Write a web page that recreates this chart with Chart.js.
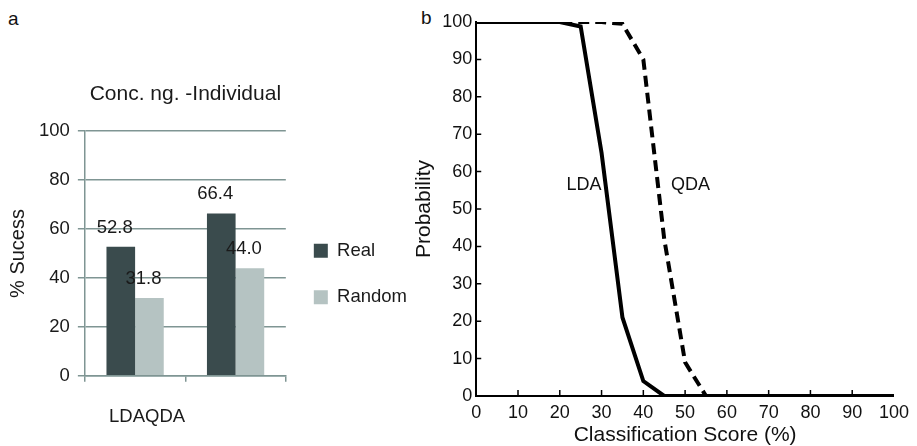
<!DOCTYPE html>
<html>
<head>
<meta charset="utf-8">
<script src="https://cdn.jsdelivr.net/npm/chart.js@4"></script>
<style>
  body { margin: 0; background: #fff; width: 917px; height: 446px; overflow: hidden; position: relative; font-family: 'Liberation Sans', Arial, sans-serif; }
  .panel { position: absolute; top: 0; }
  .tag { position: absolute; font-size: 19px; color: #111; }
</style>
</head>
<body>
<div class="tag" style="left:8px; top:8px;">a</div>
<div class="tag" style="left:421px; top:7px;">b</div>
<div class="panel" style="left:0; width:420px; height:452px;"><canvas id="chartA"></canvas></div>
<div class="panel" style="left:405px; width:512px; height:446px;"><canvas id="chartB"></canvas></div>
<script>
// panel a: success rates
const methods = ['LDA', 'QDA'];
const realRate = [52.8, 66.4];
const randomRate = [31.8, 44.0];
const rateTicks = [0, 20, 40, 60, 80, 100];

// panel b: probability vs classification score
const scores = [0, 5, 10, 15, 20, 25, 30, 35, 40, 45, 50, 55, 60, 65, 70, 75, 80, 85, 90, 95, 100];
const ldaProb = [100, 100, 100, 100, 100, 98.8, 65, 21, 4, 0, 0, 0, 0, 0, 0, 0, 0, 0, 0, 0, 0];
const qdaProb = [100, 100, 100, 100, 100, 100, 100, 99.5, 90, 42, 9, 0, 0, 0, 0, 0, 0, 0, 0, 0, 0];
const scoreTicks = [0, 10, 20, 30, 40, 50, 60, 70, 80, 90, 100];

const FONT = "'Liberation Sans', Arial, sans-serif";
const gridCol = '#7f9593';

Chart.defaults.font.family = FONT;
Chart.defaults.color = '#1a1a1a';

// values written above the bars
const barValues = {
    id: 'barValues',
    afterDatasetsDraw(chart) {
        const ctx = chart.ctx;
        ctx.save();
        ctx.font = '18.5px ' + FONT;
        ctx.fillStyle = '#1a1a1a';
        ctx.textAlign = 'center';
        ctx.textBaseline = 'middle';
        chart.data.datasets.forEach((ds, i) => {
            chart.getDatasetMeta(i).data.forEach((bar, j) => {
                ctx.fillText(ds.data[j].toFixed(1), bar.x - 6, bar.y - 19);
            });
        });
        ctx.restore();
    }
};

new Chart(document.getElementById('chartA'), {
    type: 'bar',
    data: {
        labels: methods,
        datasets: [
            { label: 'Real', data: realRate, backgroundColor: '#3a4b4d' },
            { label: 'Random', data: randomRate, backgroundColor: '#b5c3c2' }
        ]
    },
    options: {
        responsive: true,
        maintainAspectRatio: false,
        animation: false,
        layout: { padding: { top: 82, bottom: 0, left: 0, right: 3 } },
        datasets: { bar: { barPercentage: 1, categoryPercentage: 0.57 } },
        plugins: {
            tooltip: { enabled: false },
            title: {
                display: true,
                text: 'Conc. ng. -Individual',
                fullSize: false,
                font: { size: 21, weight: 'normal' },
                color: '#1a1a1a',
                padding: { top: 0, bottom: 24 }
            },
            legend: {
                position: 'right',
                maxWidth: 140,
                title: { display: true, text: ' ', padding: 0, font: { size: 10, lineHeight: 1.4 } },
                labels: {
                    boxWidth: 14,
                    boxHeight: 14,
                    padding: 28,
                    font: { size: 18.5 },
                    color: '#1a1a1a'
                }
            }
        },
        scales: {
            x: {
                grid: { drawOnChartArea: false, color: gridCol, lineWidth: 1.5, tickLength: 6 },
                border: { color: gridCol, width: 1.5 },
                ticks: {
                    padding: 24,
                    font: { size: 18.5 },
                    labelOffset: 12,
                    callback: (v, i) => i === 0 ? methods.join('') : ''
                }
            },
            y: {
                min: 0,
                max: 100,
                afterBuildTicks: s => { s.ticks = rateTicks.map(v => ({ value: v })); },
                grid: { color: gridCol, lineWidth: 1.5, tickLength: 7 },
                border: { color: gridCol, width: 1.5 },
                ticks: { padding: 8, font: { size: 18.5 } },
                title: {
                    display: true,
                    text: '% Sucess',
                    font: { size: 20 },
                    padding: { top: 6, bottom: 1 }
                }
            }
        }
    },
    plugins: [barValues]
});

// short inward tick marks like the original axes
const innerTicks = {
    id: 'innerTicks',
    afterDatasetsDraw(chart) {
        const { ctx, chartArea, scales } = chart;
        ctx.save();
        ctx.strokeStyle = '#000';
        ctx.lineWidth = 1.5;
        ctx.beginPath();
        scoreTicks.slice(1, -1).forEach(v => {
            const x = scales.x.getPixelForValue(v);
            ctx.moveTo(x, chartArea.bottom);
            ctx.lineTo(x, chartArea.bottom - 6);
        });
        scoreTicks.slice(1, -1).forEach(v => {
            const y = scales.y.getPixelForValue(v);
            ctx.moveTo(chartArea.left, y);
            ctx.lineTo(chartArea.left + 5, y);
        });
        ctx.stroke();
        // curve names
        ctx.font = '18px ' + FONT;
        ctx.fillStyle = '#111';
        ctx.textAlign = 'center';
        ctx.textBaseline = 'middle';
        ctx.fillText('LDA', scales.x.getPixelForValue(25.8), scales.y.getPixelForValue(56.4));
        ctx.fillText('QDA', scales.x.getPixelForValue(51.3), scales.y.getPixelForValue(56.4));
        ctx.restore();
    }
};

new Chart(document.getElementById('chartB'), {
    type: 'line',
    data: {
        labels: scores,
        datasets: [
            {
                label: 'QDA',
                data: scores.map((s, i) => ({ x: s, y: qdaProb[i] })),
                borderColor: '#000',
                borderWidth: 4,
                borderDash: [11, 6],
                pointRadius: 0,
                fill: false
            },
            {
                label: 'LDA',
                data: scores.map((s, i) => ({ x: s, y: ldaProb[i] })),
                borderColor: '#000',
                borderWidth: 4,
                pointRadius: 0,
                fill: false
            }
        ]
    },
    options: {
        responsive: true,
        maintainAspectRatio: false,
        animation: false,
        layout: { padding: { top: 22, right: 22, bottom: 0, left: 0 } },
        plugins: { legend: { display: false }, tooltip: { enabled: false } },
        scales: {
            x: {
                type: 'linear',
                min: 0,
                max: 100,
                afterBuildTicks: s => { s.ticks = scoreTicks.map(v => ({ value: v })); },
                grid: { drawOnChartArea: false, drawTicks: false },
                border: { color: '#000', width: 2 },
                ticks: { padding: 8, font: { size: 18, lineHeight: 1 }, color: '#111', maxRotation: 0 },
                title: {
                    display: true,
                    text: 'Classification Score (%)',
                    font: { size: 21, lineHeight: 0.5 },
                    color: '#111',
                    padding: { top: 0, bottom: 5.5 }
                }
            },
            y: {
                min: 0,
                max: 100,
                afterBuildTicks: s => { s.ticks = scoreTicks.map(v => ({ value: v })); },
                grid: { drawOnChartArea: false, drawTicks: false },
                border: { color: '#000', width: 2 },
                ticks: { padding: 4, font: { size: 18 }, color: '#111' },
                title: {
                    display: true,
                    text: 'Probability',
                    font: { size: 21 },
                    color: '#111',
                    padding: { top: 7, bottom: 1 }
                }
            }
        }
    },
    plugins: [innerTicks]
});
</script>
</body>
</html>
